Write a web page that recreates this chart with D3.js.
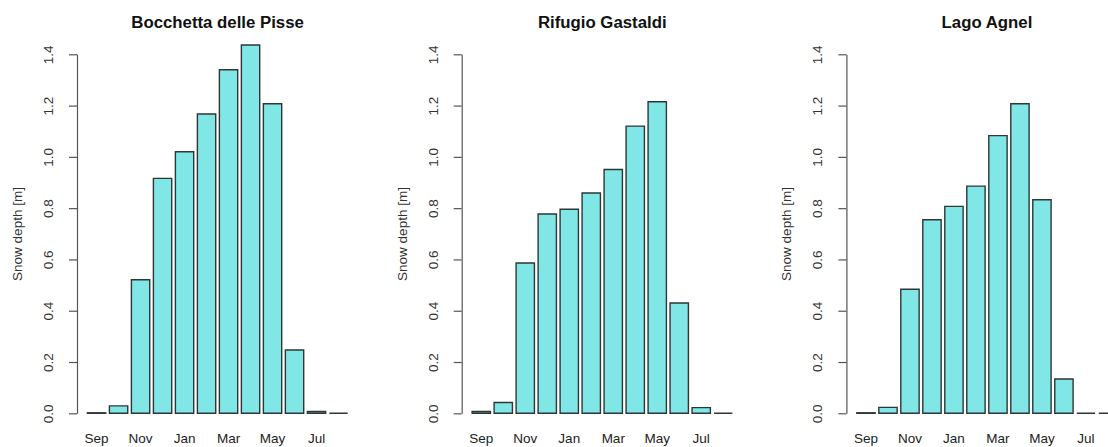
<!DOCTYPE html>
<html>
<head>
<meta charset="utf-8">
<script src="https://cdn.jsdelivr.net/npm/d3@7"></script>
<style>
  html, body { margin: 0; padding: 0; background: #fff; }
  svg { display: block; font-family: "Liberation Sans", Arial, Helvetica, sans-serif; }
</style>
</head>
<body>
<svg id="chart" width="1108" height="447"></svg>
<script>
// Mean monthly snow depth (m), hydrological year Sep–Aug
const months = ["Sep", "Oct", "Nov", "Dec", "Jan", "Feb", "Mar", "Apr", "May", "Jun", "Jul", "Aug"];
const monthLabels = ["Sep", "Nov", "Jan", "Mar", "May", "Jul"];
const stations = ["Bocchetta delle Pisse", "Rifugio Gastaldi", "Lago Agnel"];

const depthBocchetta = [0.002, 0.029, 0.521, 0.916, 1.020, 1.167, 1.340, 1.436, 1.207, 0.247, 0.007, 0.0];
const depthGastaldi  = [0.007, 0.042, 0.586, 0.777, 0.796, 0.859, 0.951, 1.120, 1.215, 0.430, 0.022, 0.0];
const depthAgnel     = [0.002, 0.023, 0.484, 0.755, 0.807, 0.886, 1.083, 1.207, 0.833, 0.134, 0.0, 0.0];

const yTicks = [0, 0.2, 0.4, 0.6, 0.8, 1.0, 1.2, 1.4];
const yLabel = "Snow depth [m]";

const series = [depthBocchetta, depthGastaldi, depthAgnel];

const svg = d3.select("#chart");

const panelStep = 384.7;
const axisX0 = 77;
const unit = 18.33;            // one bar width in px (barplot units)
const y0 = 413.3, y14 = 54.3;  // pixel positions of 0.0 and 1.4

series.forEach((vals, i) => {
  const axisX = axisX0 + i * panelStep;
  // barplot user coordinates: bars from 0.2 to 14.4, axis at the 4%-extended left edge
  const ux = d3.scaleLinear().domain([-0.368, 14.968]).range([axisX, axisX + 15.336 * unit]);
  const x = d3.scaleBand()
    .domain(months)
    .range([ux(0), ux(14.6)])
    .paddingInner(1 / 6)
    .paddingOuter(1 / 6);
  const y = d3.scaleLinear().domain([0, 1.4]).range([y0, y14]);

  const g = svg.append("g");

  // bars (drawn as closed paths so zero-height months still show their outline)
  g.selectAll("path.bar")
    .data(months.map((m, k) => ({ m, v: vals[k] })))
    .join("path")
    .attr("class", "bar")
    .attr("d", d => {
      const p = d3.path();
      p.rect(x(d.m), y(d.v), x.bandwidth(), y(0) - y(d.v));
      return p.toString();
    })
    .attr("fill", "#80E6E6")
    .attr("stroke", "#2e3636")
    .attr("stroke-width", 1.4);

  // y axis
  const yAxis = d3.axisLeft(y)
    .tickValues(yTicks)
    .tickFormat(d3.format(".1f"))
    .tickSize(8)
    .tickSizeOuter(0);
  const ya = g.append("g").attr("transform", `translate(${axisX},0)`).call(yAxis);
  ya.select(".domain").attr("stroke", "#555").attr("stroke-width", 1.2);
  ya.selectAll(".tick line").attr("stroke", "#555").attr("stroke-width", 1.2);
  ya.selectAll(".tick text")
    .attr("x", null).attr("dy", null)
    .attr("transform", "translate(-24,0) rotate(-90)")
    .attr("text-anchor", "middle")
    .attr("fill", "#333")
    .style("font-size", "13.5px");

  // month labels under every other bar
  const xAxis = d3.axisBottom(x).tickValues(monthLabels).tickSize(0);
  const xa = g.append("g").attr("transform", `translate(0,${y0})`).call(xAxis);
  xa.select(".domain").remove();
  xa.selectAll(".tick text")
    .attr("y", 30).attr("dy", null)
    .attr("fill", "#222")
    .style("font-size", "13.5px");

  // y-axis title
  g.append("text")
    .attr("transform", `translate(${axisX - 55},234) rotate(-90)`)
    .attr("text-anchor", "middle")
    .attr("fill", "#333")
    .style("font-size", "13.5px")
    .text(yLabel);

  // panel title
  g.append("text")
    .attr("x", ux((-0.368 + 14.968) / 2))
    .attr("y", 28)
    .attr("text-anchor", "middle")
    .attr("fill", "#111")
    .style("font-size", "16.8px")
    .style("font-weight", "bold")
    .text(stations[i]);
});
</script>
</body>
</html>
